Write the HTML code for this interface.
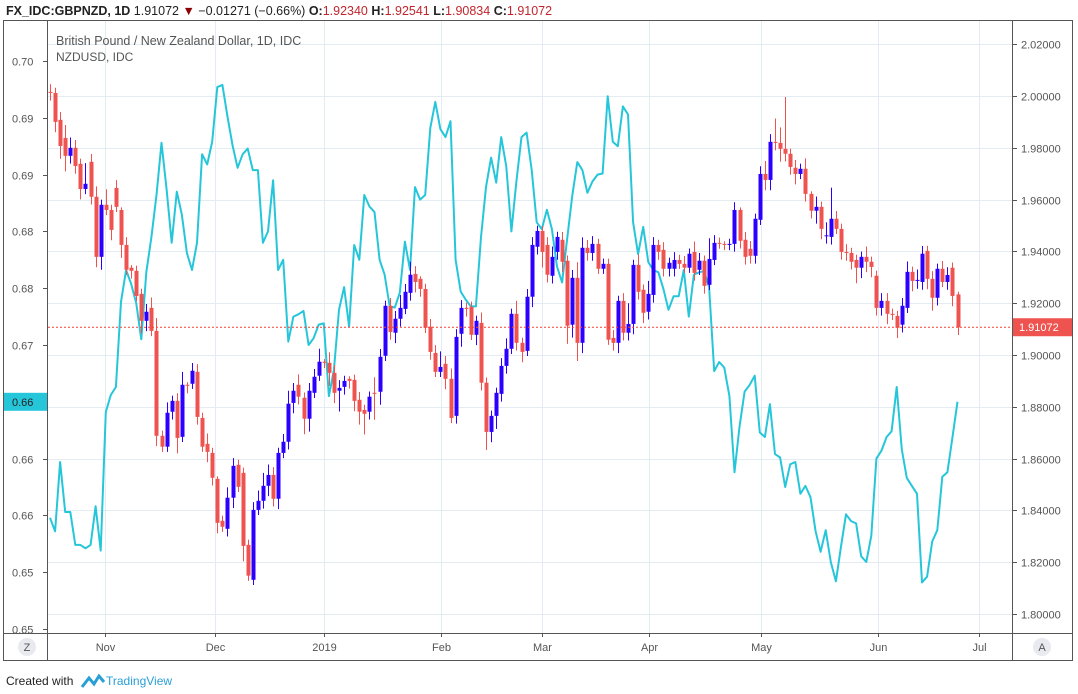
<!DOCTYPE html>
<html><head><meta charset="utf-8"><style>
body{margin:0;background:#fff;width:1078px;height:694px;overflow:hidden;font-family:"Liberation Sans",sans-serif}
svg{display:block}
</style></head><body>
<svg id="c" width="1078" height="694" xmlns="http://www.w3.org/2000/svg">
<text x="6" y="15" font-size="12.5" font-weight="bold" fill="#222">FX_IDC:GBPNZD, 1D <tspan font-weight="normal">1.91072</tspan> <tspan fill="#8b0000">▼</tspan><tspan font-weight="normal"> −0.01271 (−0.66%)</tspan> O:<tspan fill="#c0262d" font-weight="normal">1.92340</tspan> H:<tspan fill="#c0262d" font-weight="normal">1.92541</tspan> L:<tspan fill="#c0262d" font-weight="normal">1.90834</tspan> C:<tspan fill="#c0262d" font-weight="normal">1.91072</tspan></text>
<rect x="3.5" y="20.5" width="1069" height="640" fill="none" stroke="#555"/>
<g id="grid"></g>
<g id="plot"></g>
<line x1="47.5" y1="20" x2="47.5" y2="661" stroke="#555"/>
<line x1="1012.5" y1="20" x2="1012.5" y2="661" stroke="#555"/>
<line x1="3" y1="633.5" x2="1073" y2="633.5" stroke="#555"/>
<g id="axes" font-size="11" fill="#555"></g>
<text x="56" y="45" font-size="12.5" fill="#555">British Pound / New Zealand Dollar, 1D, IDC</text>
<text x="56" y="61" font-size="12" fill="#555">NZDUSD, IDC</text>
<circle cx="27" cy="647" r="9" fill="#e8eaf0"/>
<text x="27" y="651" font-size="11" fill="#555" text-anchor="middle">Z</text>
<circle cx="1042" cy="647" r="9" fill="#e8eaf0"/>
<text x="1042" y="651" font-size="11" fill="#555" text-anchor="middle">A</text>
<text x="6" y="685" font-size="12" fill="#222">Created with</text>
<path d="M82 687 L89 678 L94 684 L99 676 L104 682" fill="none" stroke="#2a9fd6" stroke-width="3"/>
<text x="106" y="685" font-size="12" fill="#2a9fd6">TradingView</text>
</svg>
<script>
const opens=[2.0016,2.0012,1.9908,1.9838,1.9769,1.9800,1.9738,1.9641,1.9746,1.9611,1.9379,1.9580,1.9560,1.9645,1.9560,1.9425,1.9337,1.9325,1.9236,1.9132,1.9182,1.9093,1.8688,1.8646,1.8781,1.8823,1.8684,1.8885,1.8889,1.8935,1.8757,1.8657,1.8622,1.8522,1.8360,1.8329,1.8449,1.8576,1.8545,1.8267,1.8132,1.8402,1.8437,1.8495,1.8537,1.8445,1.8622,1.8665,1.8815,1.8885,1.8835,1.8754,1.8854,1.8920,1.8974,1.8970,1.8931,1.8862,1.8877,1.8908,1.8904,1.8827,1.8788,1.8781,1.8854,1.8858,1.8997,1.9190,1.9086,1.9140,1.9178,1.9240,1.9313,1.9294,1.9255,1.9109,1.9008,1.8935,1.8966,1.8908,1.8765,1.9082,1.9182,1.9186,1.9078,1.9124,1.8893,1.8703,1.8765,1.8850,1.8958,1.9024,1.9159,1.9047,1.9016,1.9225,1.9418,1.9479,1.9425,1.9306,1.9398,1.9445,1.9364,1.9117,1.9298,1.9047,1.9414,1.9394,1.9429,1.9333,1.9352,1.9066,1.9047,1.9209,1.9086,1.9120,1.9348,1.9252,1.9167,1.9232,1.9425,1.9406,1.9333,1.9333,1.9367,1.9352,1.9337,1.9398,1.9329,1.9364,1.9271,1.9367,1.9433,1.9429,1.9425,1.9429,1.9560,1.9445,1.9410,1.9383,1.9522,1.9699,1.9676,1.9823,1.9819,1.9796,1.9777,1.9723,1.9699,1.9719,1.9622,1.9557,1.9572,1.9460,1.9456,1.9526,1.9487,1.9398,1.9394,1.9367,1.9337,1.9379,1.9360,1.9306,1.9182,1.9209,1.9159,1.9151,1.9117,1.9182,1.9321,1.9286,1.9282,1.9402,1.9294,1.9221,1.9333,1.9282,1.9337,1.9234];
const closes=[2.0012,1.9900,1.9807,1.9769,1.9800,1.9730,1.9641,1.9661,1.9611,1.9379,1.9580,1.9560,1.9483,1.9572,1.9425,1.9329,1.9325,1.9228,1.9132,1.9167,1.9093,1.8688,1.8646,1.8777,1.8823,1.8680,1.8885,1.8882,1.8939,1.8761,1.8646,1.8626,1.8526,1.8352,1.8337,1.8449,1.8572,1.8491,1.8263,1.8148,1.8402,1.8437,1.8495,1.8537,1.8445,1.8622,1.8665,1.8812,1.8862,1.8839,1.8754,1.8862,1.8916,1.8974,1.8970,1.8931,1.8854,1.8873,1.8900,1.8900,1.8823,1.8781,1.8773,1.8839,1.8850,1.8993,1.9190,1.9089,1.9140,1.9182,1.9244,1.9310,1.9282,1.9255,1.9105,1.9012,1.8935,1.8954,1.8908,1.8757,1.9070,1.9182,1.9178,1.9078,1.9132,1.8893,1.8703,1.8765,1.8854,1.8958,1.9024,1.9159,1.9047,1.9012,1.9225,1.9425,1.9479,1.9398,1.9310,1.9379,1.9456,1.9360,1.9113,1.9298,1.9047,1.9414,1.9394,1.9429,1.9333,1.9352,1.9059,1.9047,1.9209,1.9086,1.9120,1.9348,1.9244,1.9163,1.9236,1.9425,1.9398,1.9333,1.9356,1.9367,1.9352,1.9337,1.9391,1.9317,1.9364,1.9267,1.9371,1.9433,1.9430,1.9425,1.9429,1.9560,1.9441,1.9379,1.9383,1.9526,1.9699,1.9676,1.9823,1.9820,1.9796,1.9777,1.9726,1.9699,1.9719,1.9622,1.9557,1.9572,1.9487,1.9462,1.9526,1.9487,1.9398,1.9394,1.9360,1.9337,1.9379,1.9360,1.9340,1.9182,1.9209,1.9159,1.9155,1.9105,1.9190,1.9321,1.9286,1.9290,1.9391,1.9294,1.9221,1.9333,1.9282,1.9309,1.9228,1.9107];
const wickUp=[3,2,3,5,4,3,2,8,3,4,2,6,2,3,1,3,1,2,2,3,4,5,2,4,2,3,5,1,3,3,2,4,2,1,2,4,3,2,2,2,3,4,5,4,3,2,3,5,3,4,2,3,3,5,1,4,3,3,2,1,2,3,2,2,6,3,2,3,3,5,3,5,3,1,2,3,3,6,3,4,3,3,2,2,2,4,2,2,2,3,4,2,5,2,3,3,2,2,3,4,2,3,2,3,6,4,3,3,2,2,2,3,2,3,8,2,4,2,5,3,2,3,2,3,2,3,2,4,3,2,8,3,2,1,2,3,1,3,3,2,3,5,3,9,6,20,2,3,2,4,1,4,2,5,12,3,2,3,2,2,2,4,2,2,3,3,2,2,3,4,2,4,3,2,3,2,3,3,2,1];
const wickDn=[3,4,5,6,3,3,4,2,3,4,5,2,4,2,5,2,3,2,5,4,2,4,2,2,3,6,2,3,2,3,2,4,3,4,2,3,4,2,6,2,2,2,3,4,3,4,2,3,4,3,6,5,2,2,2,5,4,8,3,3,4,5,8,3,10,5,2,3,4,3,2,3,4,3,2,3,2,2,4,2,3,5,3,2,4,3,7,4,5,3,3,2,3,4,2,4,3,6,3,3,3,4,7,5,7,4,3,3,2,2,2,3,4,3,3,4,3,4,3,3,3,3,3,3,2,2,2,3,2,3,2,2,2,2,2,3,3,3,3,3,2,4,4,3,5,3,3,4,2,3,3,5,4,3,3,2,3,3,3,6,4,4,4,3,3,4,2,4,3,2,4,3,3,4,5,3,2,3,4,3];
const nzdusd=[0.6598,0.6586,0.6647,0.6603,0.6603,0.6574,0.6574,0.6571,0.6574,0.6608,0.6569,0.6691,0.6706,0.6713,0.6788,0.6816,0.6804,0.6787,0.6755,0.6814,0.6845,0.6882,0.6928,0.6887,0.6840,0.6885,0.6865,0.6831,0.6816,0.6840,0.6918,0.6909,0.6929,0.6977,0.6979,0.6951,0.6926,0.6906,0.6918,0.6923,0.6904,0.6904,0.6840,0.6850,0.6895,0.6816,0.6825,0.6753,0.6775,
0.6777,0.6780,0.6750,0.6756,0.6768,0.6769,0.6705,0.6728,0.6781,0.6801,0.6766,0.6838,0.6825,0.6882,0.6872,0.6867,0.6825,0.6812,0.6784,0.6783,0.6796,0.6841,0.6816,0.6889,0.6878,0.6882,
0.6941,0.6964,0.6940,0.6933,0.6947,0.6825,0.6797,0.6790,0.6784,0.6784,0.6845,0.6889,0.6915,0.6893,0.6933,0.6907,0.6850,0.6894,0.6933,0.6937,0.6904,0.6858,0.6852,0.6869,0.6852,0.6819,0.6805,0.6843,0.6881,0.6911,0.6904,0.6884,0.6894,0.6900,0.6901,0.6969,0.6929,0.6925,0.6960,0.6953,0.6858,0.6830,0.6854,0.6823,
0.6816,0.6814,0.6799,0.6781,0.6793,0.6793,0.6816,0.6775,0.6812,0.6814,0.6815,0.6801,0.6727,0.6735,0.6730,0.6705,0.6638,0.6678,0.6709,0.6715,0.6723,0.6673,0.6669,0.6698,0.6654,0.6651,0.6625,0.6645,0.6647,0.6619,0.6626,0.6616,0.6586,0.6568,0.6587,0.6559,0.6542,0.6572,0.6601,0.6595,0.6593,0.6564,0.6559,0.6582,0.6650,0.6657,0.6669,0.6674,0.6713,0.6658,0.6633,0.6626,0.6619,0.6541,0.6546,0.6577,0.6587,0.6634,0.6638,0.6669,0.6700];
const rightTicks=[2.02,2.00,1.98,1.96,1.94,1.92,1.90,1.88,1.86,1.84,1.82,1.80];
const leftTicks=[0.700,0.695,0.690,0.685,0.680,0.675,0.670,0.665,0.660,0.655,0.650];
const leftTickLabels=["0.70","0.69","0.69","0.68","0.68","0.67","","0.66","0.66","0.65","0.65"];
const monthLabels=["Nov","Dec","2019","Feb","Mar","Apr","May","Jun","Jul"];
const monthIndex=[10.9,32.6,54.0,77.2,97.0,118.1,140.3,163.4,183.2];
const lastPrice=1.91072, lastNzdLabel="0.66";

const NS="http://www.w3.org/2000/svg";
const xOf=i=>50+i*5.07;
const yR=v=>96+(2.0-v)/0.02*51.8;
const yL=v=>61+(0.70-v)/0.005*56.8;
function mk(tag,attrs,parent){const e=document.createElementNS(NS,tag);for(const k in attrs)e.setAttribute(k,attrs[k]);parent.appendChild(e);return e;}
const grid=document.getElementById('grid'),plot=document.getElementById('plot'),axes=document.getElementById('axes');

rightTicks.forEach(t=>{
  const y=Math.round(yR(t))+0.5;
  const g=mk('line',{x1:48,x2:1012,y1:y,y2:y,stroke:'#e3ecf3'},grid);
  
  
  const tk=mk('line',{x1:1012,x2:1017,y1:y,y2:y,stroke:'#555'},axes);
  
  
  const tx=mk('text',{x:1021,y:y+4},axes);
  tx.textContent=t.toFixed(5);
  
  
});
leftTicks.forEach((t,k)=>{
  const y=Math.round(yL(t))+0.5;
  const tk=mk('line',{x1:43,x2:47,y1:y,y2:y,stroke:'#555'},axes);
  
  
  const tx=mk('text',{x:12,y:y+4},axes);
  tx.textContent=leftTickLabels[k];
  
  
});
monthIndex.forEach((m,k)=>{
  const x=Math.round(xOf(m))+0.5;
  const g=mk('line',{x1:x,x2:x,y1:21,y2:633,stroke:'#e3ecf3'},grid);
  
  
  const tk=mk('line',{x1:x,x2:x,y1:633,y2:637,stroke:'#555'},axes);
  
  
  const tx=mk('text',{x:x,y:651,'text-anchor':'middle'},axes);
  tx.textContent=monthLabels[k];
  
  
});

// NZDUSD line
let d='';
nzdusd.forEach((v,i)=>{d+=(i?'L':'M')+xOf(i).toFixed(1)+' '+yL(v).toFixed(1);});
const ln=mk('path',{d:d,fill:'none',stroke:'#26c6da','stroke-width':2,'stroke-linejoin':'round'},plot);



// candles
closes.forEach((c,i)=>{
  const o=opens[i],up=c>=o,col=up?'#2c00ff':'#ef5350';
  const x=Math.round(xOf(i));
  const hi=Math.max(o,c)+wickUp[i]*0.001, lo=Math.min(o,c)-wickDn[i]*0.001;
  const w=mk('line',{x1:x+0.5,x2:x+0.5,y1:yR(hi),y2:yR(lo),stroke:col},plot);
  
  
  const y1=yR(Math.max(o,c)),y2=yR(Math.min(o,c));
  const b=mk('rect',{x:x-1.5,y:y1,width:4,height:Math.max(1,y2-y1),fill:col},plot);
  
  
});

// last price line & labels
const ly=yR(lastPrice);
const pl=mk('line',{x1:48,x2:1012,y1:ly,y2:ly,stroke:'#f44336','stroke-dasharray':'2 2'},plot);


const pb=mk('rect',{x:1013,y:ly-9,width:59,height:18,fill:'#ef5350'},axes);


const pt=mk('text',{x:1019,y:ly+4,fill:'#fff'},axes);
pt.textContent=lastPrice.toFixed(5);


const ny=yL(nzdusd[nzdusd.length-1]);
const nb=mk('rect',{x:4,y:ny-9,width:43,height:18,fill:'#26c6da'},axes);


const nt=mk('text',{x:12,y:ny+4,fill:'#222'},axes);
nt.textContent=lastNzdLabel;


</script>
</body></html>
